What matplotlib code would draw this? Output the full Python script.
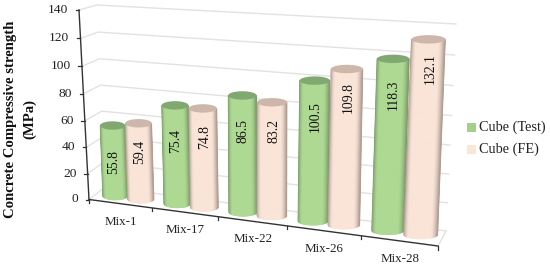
from matplotlib import pyplot as plt
from matplotlib.collections import PolyCollection
from matplotlib import colors
import numpy as np

categories = ['Mix-1', 'Mix-17', 'Mix-22', 'Mix-26', 'Mix-28']
cube_test = [55.8, 75.4, 86.5, 100.5, 118.3]
cube_fe = [59.4, 74.8, 83.2, 109.8, 132.1]
y_ticks = [0, 20, 40, 60, 80, 100, 120, 140]

FONT = 'Liberation Serif'
TEXT = '#222222'
N = len(categories)
VMAX = y_ticks[-1]


def homography(corners):
    # corners: (0,0), (N,0), (N,VMAX), (0,VMAX) in pixels
    src = [(0, 0), (N, 0), (N, VMAX), (0, VMAX)]
    a, b = [], []
    for (u, v), (x, y) in zip(src, corners):
        a.append([u, v, 1, 0, 0, 0, -u * x, -v * x])
        a.append([0, 0, 0, u, v, 1, -u * y, -v * y])
        b += [x, y]
    h = np.linalg.solve(np.array(a, float), np.array(b, float))
    h = np.append(h, 1).reshape(3, 3)

    def project(u, v):
        p = h @ np.array([u, v, 1.0])
        return p[0] / p[2], p[1] / p[2]
    return project


front = homography([(89, 199.5), (438, 246), (449, 31), (79, 10)])
back = homography([(105, 187), (446, 231), (456, 24), (97, 5)])
bars = homography([(98, 193.6), (444, 237.7), (453.5, 28), (90.5, 14)])


def cylinder(ax, u, half, val, side, top, edge_dark):
    x0, y0 = bars(u, 0)
    x1, y1 = bars(u, val)
    r = (bars(u + half, 0)[0] - bars(u - half, 0)[0]) / 2
    ry = 4.2
    light = colors.to_rgb(side)
    dark = colors.to_rgb(edge_dark)
    polys, cols = [], []
    s = np.linspace(-1, 1, 61)
    for a, b in zip(s[:-1], s[1:]):
        off_a, off_b = np.sqrt(1 - a * a) * ry, np.sqrt(1 - b * b) * ry
        polys.append([(x0 + a * r, y0 + off_a), (x0 + b * r, y0 + off_b),
                      (x1 + b * r, y1), (x1 + a * r, y1)])
        m = (a + b) / 2
        # dark rim, wider on the right
        t = np.clip((abs(m) - (0.7 if m < 0 else 0.6)) / (0.3 if m < 0 else 0.4), 0, 1) ** 1.6
        cols.append(tuple(np.array(light) * (1 - t) + np.array(dark) * t))
    ax.add_collection(PolyCollection(polys, facecolors=cols, edgecolors=cols, linewidths=0.4, zorder=3))
    th = np.linspace(0, 2 * np.pi, 60)
    ax.fill(x1 + r * np.cos(th), y1 + ry * np.sin(th), color=top, lw=0, zorder=3)


fig = plt.figure(figsize=(5.5, 2.7), dpi=100)
ax = fig.add_axes([0, 0, 1, 1])
ax.set_xlim(0, 550)
ax.set_ylim(270, 0)
ax.axis('off')

# walls
for t in y_ticks:
    pb0 = back(0, t)
    pb1 = back(N, t)
    pf = front(0, t)
    ax.plot([pf[0], pb0[0], pb1[0]], [pf[1], pb0[1], pb1[1]], color='#e2e2e2', lw=1.0, zorder=1)
ax.plot([front(N, 0)[0], back(N, 0)[0]], [front(N, 0)[1], back(N, 0)[1]], color='#e2e2e2', lw=1.0, zorder=1)

# axes
ax.plot([front(0, 0)[0], front(0, VMAX)[0]], [front(0, 0)[1], front(0, VMAX)[1]], color='#333333', lw=1.0, zorder=2)
ax.plot([front(0, 0)[0], front(N, 0)[0]], [front(0, 0)[1], front(N, 0)[1]], color='#333333', lw=1.0, zorder=2)
for t in y_ticks:
    x, y = front(0, t)
    ax.plot([x - 3.5, x], [y, y], color='#333333', lw=0.9, zorder=2)
    ax.text(x - 11, y, str(t), ha='right', va='center', fontsize=9.7, family=FONT, color=TEXT)
for i in range(N + 1):
    x, y = front(i, 0)
    ax.plot([x, x], [y, y + 3.5], color='#333333', lw=0.9, zorder=2)
for i, c in enumerate(categories):
    x, y = front(i + 0.5, 0)
    ax.text(x + 1, y + 18, c, ha='center', va='center', fontsize=9.4, family=FONT, color=TEXT)

# cylinders
for i in range(N):
    ug, uf = i + 0.29, i + 0.71
    cylinder(ax, ug, 0.21, cube_test[i], '#aed993', '#82a872', '#7a9a68')
    cylinder(ax, uf, 0.215, cube_fe[i], '#f9e4d7', '#cdb6aa', '#ab988e')
    xg, yg = bars(ug, cube_test[i])
    xf, yf = bars(uf, cube_fe[i])
    ax.text(xg + 0.5, yg + 36, f'{cube_test[i]:.1f}', rotation=90, ha='center', va='center',
            fontsize=9.9, family=FONT, color='#111111', zorder=4)
    ax.text(xf + 1.5, yf + 29, f'{cube_fe[i]:.1f}', rotation=90, ha='center', va='center',
            fontsize=9.9, family=FONT, color='#111111', zorder=4)

ax.text(11, 119, 'Concrete Compressive strength', rotation=90, ha='center', va='center',
        fontsize=10.6, fontweight='bold', family=FONT, color='#111111')
ax.text(30, 119, '(MPa)', rotation=90, ha='center', va='center',
        fontsize=10.6, fontweight='bold', family=FONT, color='#111111')

# legend
ax.fill([467, 476, 476, 467], [123, 123, 132, 132], color='#a4d08a', lw=0)
ax.fill([467, 476, 476, 467], [145, 145, 154, 154], color='#fbe5d6', lw=0)
ax.text(479, 127, 'Cube (Test)', ha='left', va='center', fontsize=10.3, family=FONT, color=TEXT)
ax.text(479, 149, 'Cube (FE)', ha='left', va='center', fontsize=10.3, family=FONT, color=TEXT)

fig.savefig('out.png', dpi=100)
